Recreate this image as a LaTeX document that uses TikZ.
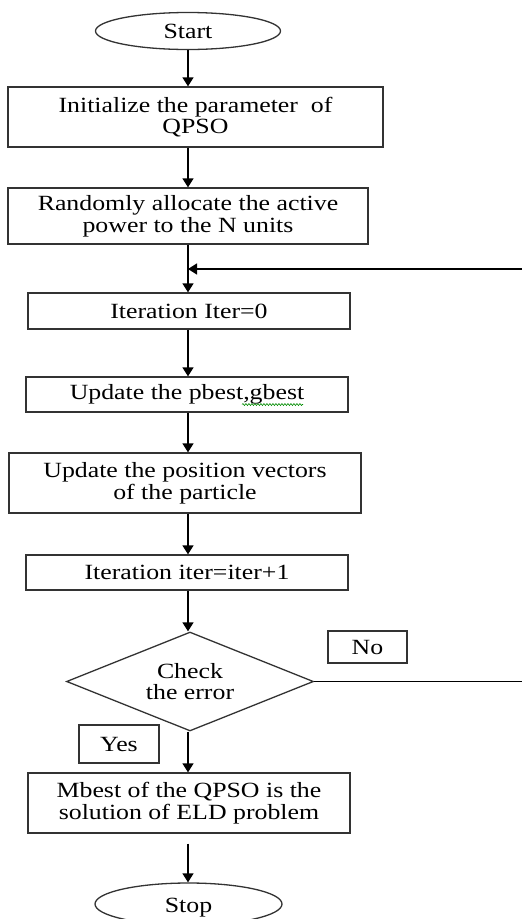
\documentclass[tikz,border=0pt]{standalone}
\usepackage{fontspec}
\setmainfont{Liberation Serif}[FakeStretch=1.19]
\usepackage{tikz}
\usetikzlibrary{positioning,arrows.meta,shapes.geometric,calc,decorations.pathmorphing}

\tikzset{
	flowbox/.style={draw=black!80, line width=1.3pt, rectangle, align=center, inner sep=0pt},
	termbox/.style={draw=black!80, line width=1.3pt, ellipse, inner sep=0pt},
	decbox/.style={draw=black!80, line width=1.3pt, diamond, aspect=2.5, align=center, inner sep=0pt},
	flowarrow/.style={-{Triangle[width=11pt,length=9pt]}, line width=1.4pt},
	flowline/.style={line width=1.3pt},
}

\begin{document}
\begin{tikzpicture}[x=1pt,y=-1pt,font=\fontsize{21.7}{21.7}\selectfont]
	\clip (0,0) rectangle (522,919);
	\fill[white] (0,0) rectangle (522,919);
	
	% draw nodes
	\node[termbox, minimum width=185pt, minimum height=37pt] (start) at (188,31) {Start};
	\node[flowbox, minimum width=375pt, minimum height=60pt] (init) at (195.5,117) {Initialize the parameter\ \ of\\QPSO};
	\node[flowbox, minimum width=360pt, minimum height=56pt] (rand) at (188,216) {Randomly allocate the active\\power to the N units};
	\node[flowbox, minimum width=322pt, minimum height=36pt] (iterzero) at (189,311) {Iteration Iter=0};
	\node[flowbox, minimum width=322pt, minimum height=35pt] (pbest) at (187,394.5) {Update the pbest,gbest};
	\node[flowbox, minimum width=352pt, minimum height=60pt] (pos) at (185,483) {Update the position vectors\\of the particle};
	\node[flowbox, minimum width=322pt, minimum height=35pt] (iterone) at (187,572.5) {Iteration iter=iter+1};
	\node[decbox, minimum width=247pt, minimum height=99pt] (check) at (190,681.5) {Check\\the error};
	\node[flowbox, minimum width=79pt, minimum height=32pt] (no) at (367.5,647) {No};
	\node[flowbox, minimum width=80pt, minimum height=38pt] (yes) at (119,744) {Yes};
	\node[flowbox, minimum width=322pt, minimum height=60pt] (mbest) at (189,803) {Mbest of the QPSO is the\\solution of ELD problem};
	\node[termbox, minimum width=187pt, minimum height=42pt, text height=21pt] (stop) at (188.5,904) {Stop};
	
	% spine and free ends
	\coordinate (spine) at (188,0);
	\coordinate (loopin) at (522,269);
	\coordinate (noout) at (522,0);
	
	% draw arrows
	\draw[flowarrow] (start.south -| spine) -- (init.north -| spine);
	\draw[flowarrow] (init.south -| spine) -- (rand.north -| spine);
	\draw[flowarrow] (rand.south -| spine) -- (iterzero.north -| spine);
	\draw[flowarrow] (loopin) -- (loopin -| spine);
	\draw[flowarrow] (iterzero.south -| spine) -- (pbest.north -| spine);
	\draw[flowarrow] (pbest.south -| spine) -- (pos.north -| spine);
	\draw[flowarrow] (pos.south -| spine) -- (iterone.north -| spine);
	\draw[flowarrow] (iterone.south -| spine) -- (check.north -| spine);
	\draw[flowarrow] (check.south -| spine) -- (mbest.north -| spine);
	\draw[flowline] (check.east) -- (check.east -| noout);
	\draw[flowarrow] ([yshift=-10pt]mbest.south -| spine) -- (stop.north -| spine);
	
	%%% spell check mark
	\draw[green!55!black, line width=0.6pt, decorate, decoration={snake,amplitude=1pt,segment length=3pt}]
	($(pbest.center)+(55,10)$) -- ($(pbest.center)+(116,10)$);
\end{tikzpicture}
\end{document}
